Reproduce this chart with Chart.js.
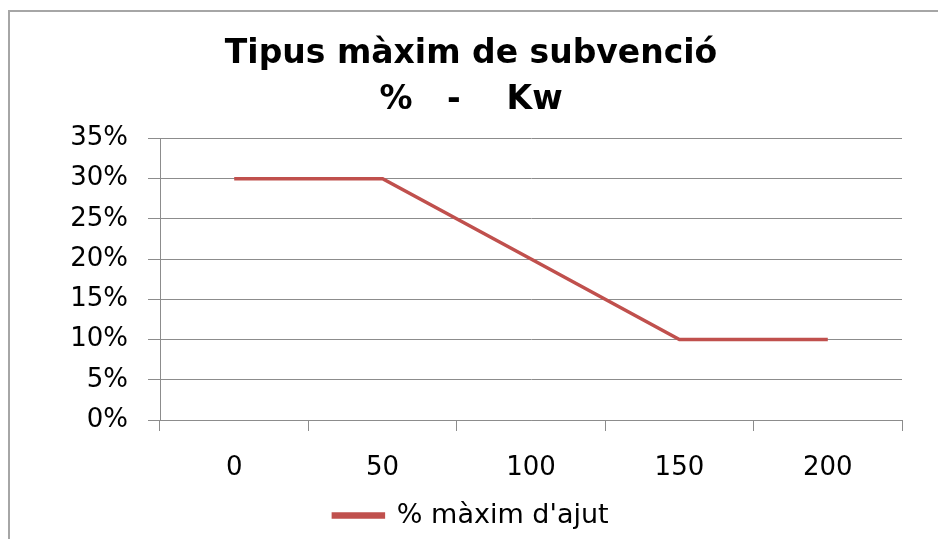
<!DOCTYPE html>
<html>
<head>
<meta charset="utf-8">
<script src="https://cdn.jsdelivr.net/npm/chart.js@4"></script>
<style>
  html, body { margin: 0; padding: 0; background: #fff; overflow: hidden; }
  #wrap { position: relative; width: 938px; height: 539px; overflow: hidden; }
  #frame { position: absolute; left: 8px; top: 10px; width: 1000px; height: 600px;
           border-top: 2px solid #a6a6a6; border-left: 2px solid #a6a6a6; }
  canvas { position: absolute; left: 0; top: 0; }
</style>
</head>
<body>
<div id="wrap">
  <div id="frame"></div>
  <canvas id="chart" width="938" height="539"></canvas>
</div>
<script>
// Kw categories and maximum subsidy rate (%)
const categories = ['0', '50', '100', '150', '200'];
const maxAjut = [30, 30, 20, 10, 10];
const yMax = 35;
const yStep = 5;

const font = 'DejaVu Sans, sans-serif';
const gridGray = '#8c8c8c';

document.addEventListener('DOMContentLoaded', function () {
    const ctx = document.getElementById('chart').getContext('2d');
    new Chart(ctx, {
        type: 'line',
        data: {
            labels: categories,
            datasets: [{
                label: "% màxim d'ajut",
                data: maxAjut,
                borderColor: '#c0504d',
                backgroundColor: '#c0504d',
                borderWidth: 3.5,
                pointRadius: 0,
                tension: 0
            }]
        },
        options: {
            responsive: false,
            animation: false,
            layout: {
                padding: { left: 40, right: 36, top: 0, bottom: 0 }
            },
            plugins: {
                title: {
                    display: true,
                    text: ['Tipus màxim de subvenció', '%   -    Kw'],
                    color: '#000',
                    font: { family: font, size: 33, weight: 'bold', lineHeight: 1.4 },
                    padding: { top: 31, bottom: 15 }
                },
                legend: {
                    position: 'bottom',
                    labels: {
                        color: '#000',
                        font: { family: font, size: 27 },
                        boxWidth: 50,
                        boxHeight: 3,
                        padding: 10
                    }
                },
                tooltip: { enabled: false }
            },
            scales: {
                x: {
                    offset: true,
                    afterFit: function (scale) { scale.height = 72; },
                    grid: {
                        offset: true,
                        drawOnChartArea: false,
                        drawTicks: true,
                        tickLength: 11,
                        color: gridGray
                    },
                    border: { display: true, color: gridGray },
                    ticks: {
                        color: '#000',
                        padding: 22,
                        maxRotation: 0,
                        font: { family: font, size: 26 }
                    }
                },
                y: {
                    min: 0,
                    max: yMax,
                    afterFit: function (scale) { scale.width = 120; },
                    grid: {
                        color: gridGray,
                        tickLength: 12
                    },
                    border: { display: true, color: gridGray },
                    ticks: {
                        stepSize: yStep,
                        color: '#000',
                        padding: 20,
                        font: { family: font, size: 26 },
                        callback: function (v) { return v + '%'; }
                    }
                }
            }
        }
    });
});
</script>
</body>
</html>
